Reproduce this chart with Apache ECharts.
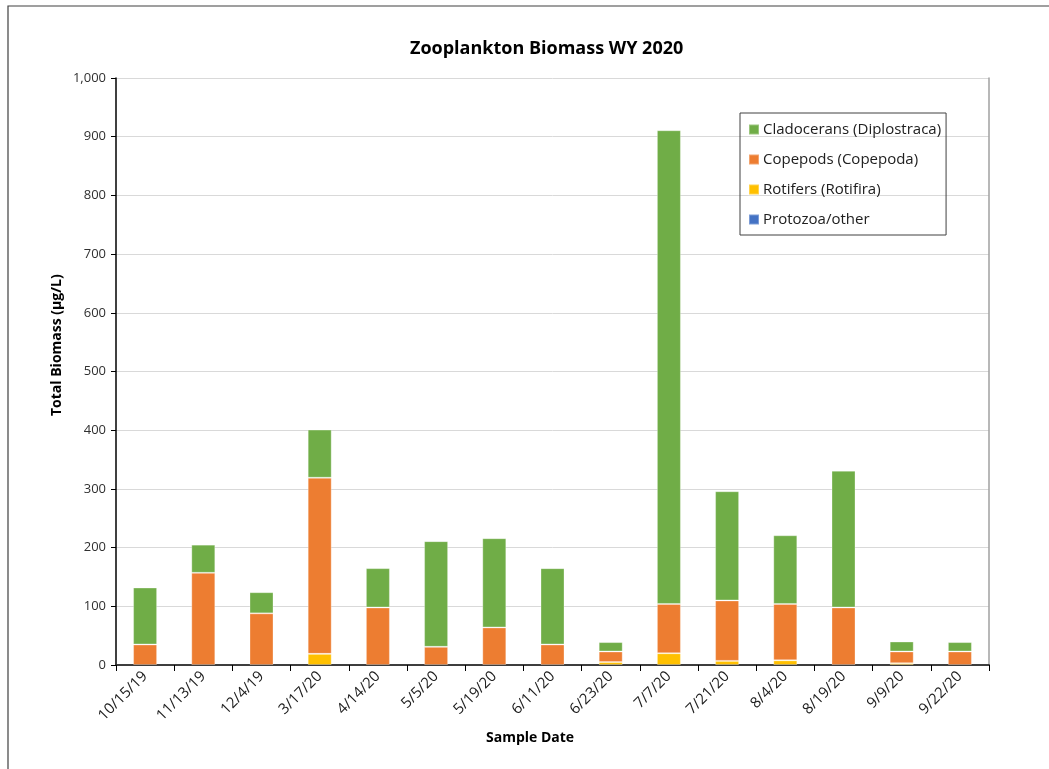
<!DOCTYPE html>
<html><head><meta charset="utf-8">
<script src="https://cdn.jsdelivr.net/npm/echarts@6/dist/echarts.min.js"></script>
<style>html,body{margin:0;padding:0;background:#fff}#c{width:1049px;height:769px}</style>
</head><body><div id="c"></div>
<script>
const categories = ['10/15/19','11/13/19','12/4/19','3/17/20','4/14/20','5/5/20','5/19/20','6/11/20','6/23/20','7/7/20','7/21/20','8/4/20','8/19/20','9/9/20','9/22/20'];
const protozoa    = [0,0,0,0,0,0,0,0,0,0,0,0,0,0,0];
const rotifers    = [0,0,0,19,0,0,0,0,5,20,7,8,0,3,0];
const copepods    = [35,157,88,300,98,31,64,35,18,84,103,96,98,20,23];
const cladocerans = [97,48,36,82,67,180,152,130,16,807,186,117,233,17,16];
const yTicks = [0,100,200,300,400,500,600,700,800,900,1000];

const FONT = 'Open Sans';
const chart = echarts.init(document.getElementById('c'));
const barStyle = c => ({color: c, borderColor: 'rgba(255,255,255,0.3)', borderWidth: 1});
const mk = (name, data, color) => ({
  name, type: 'bar', stack: 'total', data: data.map(v => v === 0 ? '-' : v), barWidth: 24,
  itemStyle: barStyle(color), xAxisIndex: 0, yAxisIndex: 0
});
chart.setOption({
  animation: false,
  textStyle: {fontFamily: FONT},
  title: {
    text: 'Zooplankton Biomass WY 2020', left: 405, top: 35,
    textStyle: {fontFamily: FONT, fontWeight: 'bold', fontSize: 18, color: '#000'}
  },
  grid: {left: 116, right: 60, top: 78, bottom: 104, containLabel: false},
  legend: {
    orient: 'vertical', left: 740, top: 113,
    data: ['Cladocerans (Diplostraca)','Copepods (Copepoda)','Rotifers (Rotifira)','Protozoa/other'],
    itemWidth: 10, itemHeight: 10, itemGap: 15,
    padding: [9, 5, 8, 8],
    borderColor: '#404040', borderWidth: 1, borderRadius: 0,
    icon: 'rect',
    textStyle: {fontFamily: FONT, fontSize: 15, color: '#202020', padding: [0,0,0,-1]}
  },
  xAxis: [{
    type: 'category', data: categories,
    axisLine: {lineStyle: {color: '#000', width: 1.5}},
    axisTick: {show: true, length: 6, lineStyle: {color: '#000'}, alignWithLabel: false},
    axisLabel: {rotate: 45, fontFamily: FONT, fontSize: 15, color: '#202020', margin: 9, interval: 0}
  }, {
    type: 'category', data: categories, position: 'top',
    axisLine: {show: true, lineStyle: {color: '#404040', width: 1.5}},
    axisTick: {show: false}, axisLabel: {show: false}
  }],
  yAxis: [{
    type: 'value', min: 0, max: 1000, interval: 100,
    axisLine: {show: true, lineStyle: {color: '#000', width: 1.5}},
    axisTick: {show: true, length: 5, lineStyle: {color: '#000'}},
    splitLine: {lineStyle: {color: '#d9d9d9', width: 1}},
    axisLabel: {
      fontFamily: FONT, fontSize: 13, color: '#303030', margin: 10,
      formatter: v => yTicks.includes(v) ? v.toLocaleString('en-US') : ''
    }
  }, {
    type: 'value', min: 0, max: 1000, interval: 100, position: 'right',
    axisLine: {show: true, lineStyle: {color: '#a0a0a0', width: 1.5}},
    axisTick: {show: false}, axisLabel: {show: false}, splitLine: {show: false}
  }],
  graphic: [
    {type: 'rect', shape: {x: 8, y: 6, width: 1100, height: 900}, style: {fill: 'none', stroke: '#404040', lineWidth: 1.2}, silent: true, z: -10},
    {type: 'text', left: 486, top: 731, style: {text: 'Sample Date', font: 'bold 14px "' + FONT + '"', fill: '#000'}},
    {type: 'text', x: 50, y: 416, rotation: Math.PI / 2,
     style: {text: 'Total Biomass (µg/L)', font: 'bold 14px "' + FONT + '"', fill: '#000', align: 'left', verticalAlign: 'top'}}
  ],
  series: [
    mk('Protozoa/other', protozoa, '#4472C4'),
    mk('Rotifers (Rotifira)', rotifers, '#FFC000'),
    mk('Copepods (Copepoda)', copepods, '#ED7D31'),
    mk('Cladocerans (Diplostraca)', cladocerans, '#70AD47')
  ]
});
</script></body></html>
